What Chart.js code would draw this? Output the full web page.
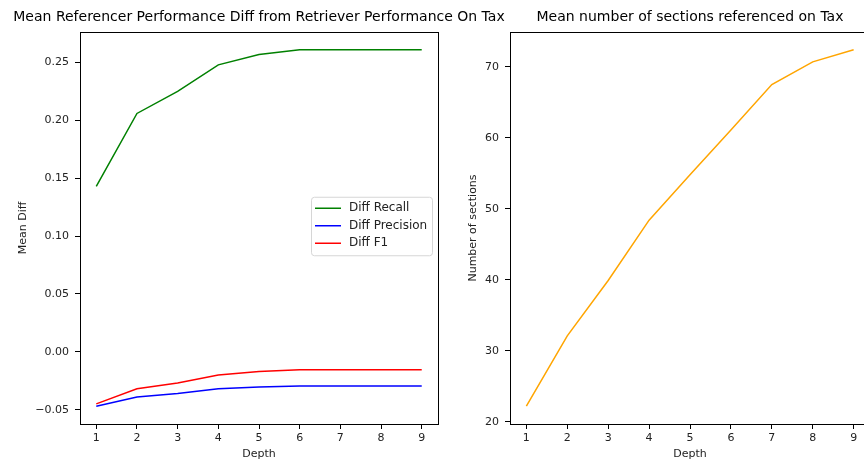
<!DOCTYPE html>
<html>
<head>
<meta charset="utf-8">
<script src="https://cdn.jsdelivr.net/npm/chart.js@4"></script>
<style>
  html, body { margin: 0; padding: 0; background: #fff; overflow: hidden; width: 864px; height: 461px; }
  canvas { position: absolute; top: 0; }
  #graficoDiff { left: 0; }
  #graficoSecoes { left: 460px; }
</style>
</head>
<body>
<canvas id="graficoDiff" width="518" height="461"></canvas>
<canvas id="graficoSecoes" width="460" height="461"></canvas>
<script>
// dados
const depth = [1, 2, 3, 4, 5, 6, 7, 8, 9];
const diffRecall = [0.143, 0.206, 0.225, 0.248, 0.257, 0.261, 0.261, 0.261, 0.261];
const diffPrecision = [-0.047, -0.039, -0.036, -0.032, -0.0305, -0.0295, -0.0295, -0.0295, -0.0295];
const diffF1 = [-0.045, -0.032, -0.027, -0.020, -0.017, -0.0155, -0.0155, -0.0155, -0.0155];
const sections = [22.2, 32.1, 39.9, 48.4, 54.8, 61.1, 67.5, 70.7, 72.4];

const diffTicks = [-0.05, 0, 0.05, 0.10, 0.15, 0.20, 0.25];
const sectionTicks = [20, 30, 40, 50, 60, 70];

const FONT = 'DejaVu Sans';
const TXT = '#222';

// margem de 5% como no matplotlib
function margins(values) {
    const lo = Math.min(...values), hi = Math.max(...values);
    const m = (hi - lo) * 0.05;
    return { min: lo - m, max: hi + m };
}

function pontos(ys) {
    return depth.map((d, i) => ({ x: d, y: ys[i] }));
}

const frame = {
    id: 'frame',
    afterDraw(chart) {
        const a = chart.chartArea, c = chart.ctx;
        c.save();
        c.strokeStyle = '#000';
        c.lineWidth = 1;
        c.strokeRect(Math.round(a.left) + 0.5, Math.round(a.top) + 0.5,
            Math.round(a.right - a.left), Math.round(a.bottom - a.top));
        c.restore();
    }
};

const innerLegend = {
    id: 'innerLegend',
    afterDraw(chart) {
        const a = chart.chartArea, c = chart.ctx;
        const sets = chart.data.datasets;
        const w = 121, rowH = 17.5, h = sets.length * rowH + 6;
        const x = a.right - 6 - w;
        const y = (a.top + a.bottom) / 2 - h / 2 - 2;
        c.save();
        c.fillStyle = 'rgba(255,255,255,0.8)';
        c.strokeStyle = '#d6d6d6';
        c.lineWidth = 1;
        c.beginPath();
        c.roundRect(x + 0.5, y + 0.5, w, h, 3);
        c.fill();
        c.stroke();
        c.font = '12px "' + FONT + '"';
        c.textBaseline = 'middle';
        c.fillStyle = TXT;
        sets.forEach((ds, i) => {
            const cy = y + 11.5 + i * rowH;
            c.strokeStyle = ds.borderColor;
            c.lineWidth = 1.5;
            c.beginPath();
            c.moveTo(x + 4, cy);
            c.lineTo(x + 30, cy);
            c.stroke();
            c.fillText(ds.label, x + 38, cy);
        });
        c.restore();
    }
};

function eixoX() {
    return {
        type: 'linear',
        min: 0.6,
        max: 9.4,
        afterBuildTicks: (axis) => { axis.ticks = depth.map(v => ({ value: v })); },
        afterFit: (scale) => { scale.height = 37; },
        grid: { drawOnChartArea: false, drawTicks: true, tickLength: 5, color: '#000' },
        border: { display: false },
        ticks: { font: { family: FONT, size: 11 }, color: TXT, padding: 3, maxRotation: 0 },
        title: { display: true, text: 'Depth', font: { family: FONT, size: 11 }, color: TXT, padding: { top: 0, bottom: 0 } }
    };
}

function eixoY(range, tickList, label, width, titlePad, fmt) {
    return {
        type: 'linear',
        min: range.min,
        max: range.max,
        afterBuildTicks: (axis) => { axis.ticks = tickList.map(v => ({ value: v })); },
        afterFit: (scale) => { scale.width = width; },
        grid: { drawOnChartArea: false, drawTicks: true, tickLength: 5, color: '#000' },
        border: { display: false },
        ticks: { font: { family: FONT, size: 11 }, color: TXT, padding: 6, callback: fmt },
        title: { display: true, text: label, font: { family: FONT, size: 11 }, color: TXT, padding: { top: titlePad, bottom: 0 } }
    };
}

// eixo vazio a direita, so para reservar espaco e centrar o titulo
function espacoDireita(width) {
    return {
        type: 'linear',
        position: 'right',
        display: true,
        afterFit: (scale) => { scale.width = width; },
        grid: { display: false },
        border: { display: false },
        ticks: { display: false }
    };
}

function titulo(text) {
    return {
        display: true,
        text: text,
        color: '#000',
        font: { family: FONT, size: 14, weight: 'normal', lineHeight: 1.2 },
        padding: { top: 9, bottom: 6.2 }
    };
}

const linha = { borderWidth: 1.5, pointRadius: 0, tension: 0, fill: false };

new Chart(document.getElementById('graficoDiff'), {
    type: 'line',
    data: {
        datasets: [
            { label: 'Diff Recall', data: pontos(diffRecall), borderColor: '#008000', ...linha },
            { label: 'Diff Precision', data: pontos(diffPrecision), borderColor: '#0000ff', ...linha },
            { label: 'Diff F1', data: pontos(diffF1), borderColor: '#ff0000', ...linha }
        ]
    },
    options: {
        responsive: false,
        animation: false,
        layout: { padding: 0 },
        plugins: {
            legend: { display: false },
            tooltip: { enabled: false },
            title: titulo('Mean Referencer Performance Diff from Retriever Performance On Tax')
        },
        scales: {
            x: eixoX(),
            y: eixoY(margins([...diffRecall, ...diffPrecision, ...diffF1]), diffTicks, 'Mean Diff', 80, 17,
                v => v.toFixed(2).replace('-', '\u2212')),
            espaco: espacoDireita(80)
        }
    },
    plugins: [frame, innerLegend]
});

new Chart(document.getElementById('graficoSecoes'), {
    type: 'line',
    data: {
        datasets: [
            { label: 'Sections', data: pontos(sections), borderColor: '#ffa500', ...linha }
        ]
    },
    options: {
        responsive: false,
        animation: false,
        layout: { padding: 0 },
        plugins: {
            legend: { display: false },
            tooltip: { enabled: false },
            title: titulo('Mean number of sections referenced on Tax')
        },
        scales: {
            x: eixoX(),
            y: eixoY(margins(sections), sectionTicks, 'Number of sections', 50, 7, v => String(v)),
            espaco: espacoDireita(50)
        }
    },
    plugins: [frame]
});
</script>
</body>
</html>
